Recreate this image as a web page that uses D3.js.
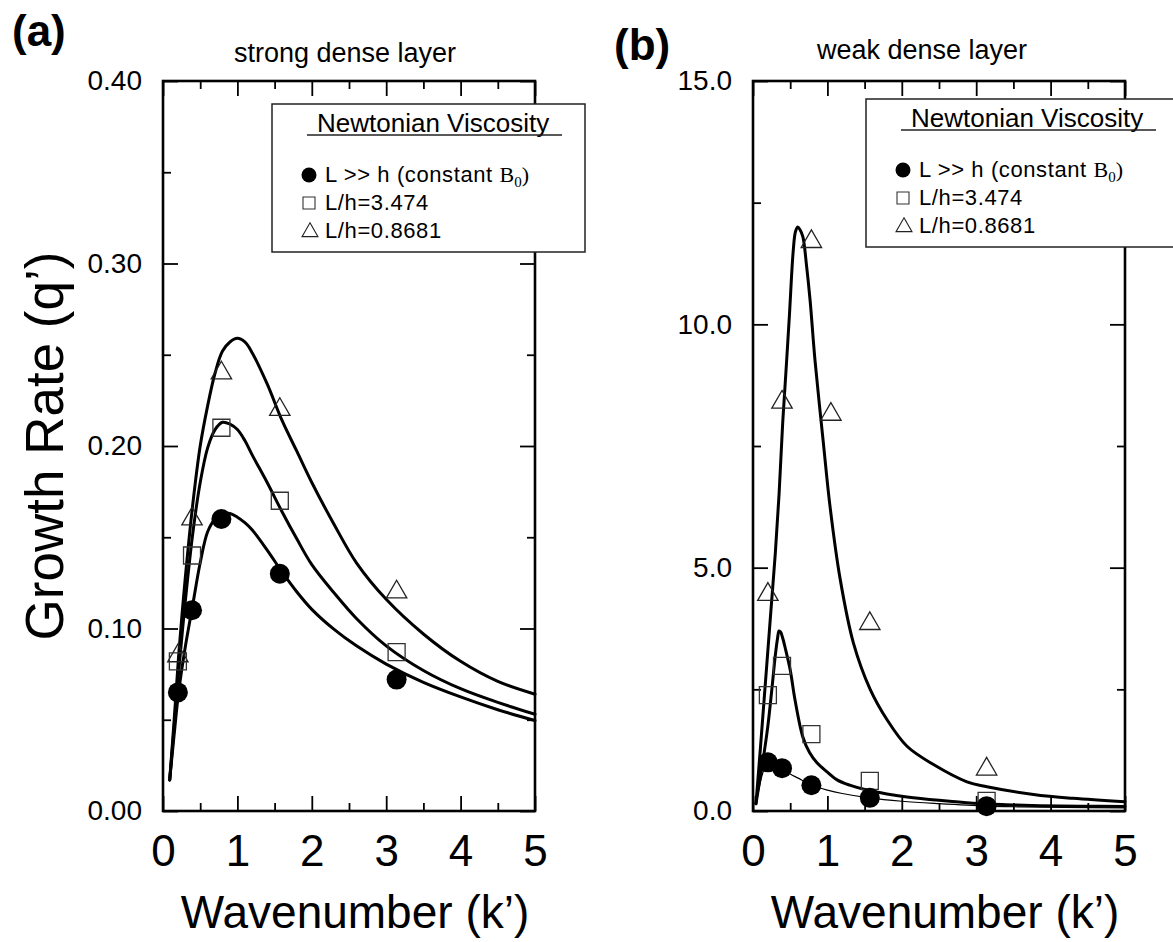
<!DOCTYPE html>
<html><head><meta charset="utf-8">
<script src="https://cdn.jsdelivr.net/npm/d3@7"></script>
<style>
html,body{margin:0;padding:0;background:#fff;}
svg{display:block;}
text{font-family:"Liberation Sans",Arial,Helvetica,sans-serif;fill:#000;}
</style></head><body>
<svg id="chart" width="1173" height="942"></svg>
<script>
// ---------- data ----------
const xTicksMajor = [0, 1, 2, 3, 4, 5];
const xTicksMinor = [0.5, 1.5, 2.5, 3.5, 4.5];
const yTicksA = [0, 0.1, 0.2, 0.3, 0.4];
const yTicksMinorA = [0.05, 0.15, 0.25, 0.35];
const yTicksB = [0, 5, 10, 15];
const yTicksMinorB = [2.5, 7.5, 12.5];

// panel (a) markers
const kMarksA = [0.2, 0.39, 0.785, 1.57, 3.14];
const circlesA = [0.065, 0.11, 0.16, 0.13, 0.072];
const squaresA = [0.082, 0.14, 0.21, 0.17, 0.087];
const trianglesA = [0.085, 0.16, 0.24, 0.22, 0.12];

// panel (a) curves
const kCurveA = [0.09, 0.15, 0.21, 0.3, 0.4, 0.5, 0.6, 0.7, 0.8, 0.9, 1.0, 1.1, 1.2, 1.4, 1.6, 1.8, 2.0, 2.3, 2.6, 3.0, 3.5, 4.0, 4.5, 5.0];
const curveCircleA = [0.017, 0.042, 0.065, 0.090, 0.113, 0.136, 0.153, 0.160, 0.163, 0.163, 0.161, 0.158, 0.154, 0.143, 0.131, 0.120, 0.1105, 0.0995, 0.0905, 0.0805, 0.0705, 0.0625, 0.0555, 0.0496];
const curveSquareA = [0.017, 0.046, 0.076, 0.115, 0.152, 0.180, 0.199, 0.209, 0.213, 0.212, 0.209, 0.203, 0.195, 0.180, 0.164, 0.149, 0.135, 0.1195, 0.1055, 0.0905, 0.077, 0.067, 0.0595, 0.053];
const curveTriangleA = [0.017, 0.050, 0.085, 0.128, 0.168, 0.200, 0.222, 0.240, 0.252, 0.257, 0.259, 0.257, 0.251, 0.234, 0.214, 0.197, 0.180, 0.157, 0.136, 0.116, 0.097, 0.082, 0.071, 0.064];

// panel (b) markers
const kMarksB = [0.2, 0.39, 0.785, 1.57, 3.14];
const circlesB = [1.0, 0.88, 0.53, 0.27, 0.1];
const squaresB = [2.38, 2.98, 1.58, 0.62, 0.21];
const kTrianglesB = [0.2, 0.39, 0.785, 1.047, 1.57, 3.14];
const trianglesB = [4.45, 8.4, 11.7, 8.15, 3.85, 0.86];

// panel (b) curves
const kCurveTriB = [0.04, 0.1, 0.15, 0.2, 0.25, 0.3, 0.35, 0.4, 0.45, 0.49, 0.54, 0.57, 0.6, 0.63, 0.67, 0.72, 0.767, 0.834, 0.946, 1.036, 1.17, 1.35, 1.575, 1.8, 2.07, 2.42, 2.876, 3.145, 3.77, 4.3, 5.0];
const curveTriangleB = [0.15, 1.3, 2.3, 3.3, 4.3, 5.3, 6.5, 8.0, 9.2, 10.2, 11.5, 11.9, 12.0, 11.95, 11.8, 11.2, 10.5, 9.25, 7.56, 6.25, 4.78, 3.45, 2.5, 1.88, 1.33, 0.96, 0.6, 0.5, 0.34, 0.26, 0.19];
const kCurveSqB = [0.04, 0.1, 0.15, 0.2, 0.25, 0.3, 0.33, 0.35, 0.37, 0.4, 0.43, 0.5, 0.565, 0.67, 0.76, 0.86, 1.0, 1.13, 1.3, 1.53, 1.8, 2.07, 2.5, 2.96, 3.4, 3.86, 4.4, 5.0];
const curveSquareB = [0.15, 0.72, 1.2, 1.75, 2.45, 3.2, 3.55, 3.7, 3.68, 3.55, 3.37, 2.9, 2.28, 1.52, 1.2, 0.99, 0.8, 0.64, 0.53, 0.43, 0.35, 0.29, 0.22, 0.16, 0.13, 0.11, 0.1, 0.094];
const kCurveCircB = [0.04, 0.08, 0.12, 0.16, 0.2, 0.25, 0.3, 0.39, 0.5, 0.6, 0.79, 1.0, 1.2, 1.56, 2.0, 2.5, 3.14, 3.6, 4.2, 5.0];
const curveCircleB = [0.15, 0.45, 0.72, 0.9, 0.98, 0.97, 0.93, 0.86, 0.76, 0.68, 0.53, 0.43, 0.36, 0.27, 0.2, 0.15, 0.1, 0.085, 0.075, 0.065];

const legendTitle = "Newtonian Viscosity";
const legendLabels = ["L >> h (constant ", "L/h=3.474", "L/h=0.8681"];

// ---------- drawing ----------
const svg = d3.select("#chart");
const TOP = 81, BOTTOM = 811;

function panel(cfg) {
  const g = svg.append("g");
  const x = d3.scaleLinear().domain([0, 5]).range([cfg.left, cfg.right]);
  const y = d3.scaleLinear().domain(cfg.yDomain).range([BOTTOM, TOP]);

  const styleAxis = (s, fs) => {
    s.select(".domain").remove();
    s.selectAll(".tick line").attr("stroke", "#000").attr("stroke-width", 1.8);
    s.attr("font-size", fs).attr("font-family", null);
    s.selectAll("text").attr("fill", "#000");
  };
  // bottom
  g.append("g").attr("transform", `translate(0,${BOTTOM})`)
    .call(d3.axisBottom(x).tickValues(xTicksMajor).tickSizeInner(-15).tickSizeOuter(0).tickPadding(24).tickFormat(d3.format("d")))
    .call(s => styleAxis(s, 44));
  g.append("g").attr("transform", `translate(0,${BOTTOM})`)
    .call(d3.axisBottom(x).tickValues(xTicksMinor).tickSizeInner(-8).tickSizeOuter(0).tickFormat(""))
    .call(s => styleAxis(s, 10));
  // top
  g.append("g").attr("transform", `translate(0,${TOP})`)
    .call(d3.axisTop(x).tickValues(xTicksMajor).tickSizeInner(-15).tickSizeOuter(0).tickFormat(""))
    .call(s => styleAxis(s, 10));
  g.append("g").attr("transform", `translate(0,${TOP})`)
    .call(d3.axisTop(x).tickValues(xTicksMinor).tickSizeInner(-8).tickSizeOuter(0).tickFormat(""))
    .call(s => styleAxis(s, 10));
  // left
  g.append("g").attr("transform", `translate(${cfg.left},0)`)
    .call(d3.axisLeft(y).tickValues(cfg.yMajor).tickSizeInner(-15).tickSizeOuter(0).tickPadding(21).tickFormat(d3.format(cfg.yFmt)))
    .call(s => styleAxis(s, 28));
  g.append("g").attr("transform", `translate(${cfg.left},0)`)
    .call(d3.axisLeft(y).tickValues(cfg.yMinor).tickSizeInner(-8).tickSizeOuter(0).tickFormat(""))
    .call(s => styleAxis(s, 10));
  // right
  g.append("g").attr("transform", `translate(${cfg.right},0)`)
    .call(d3.axisRight(y).tickValues(cfg.yMajor).tickSizeInner(-15).tickSizeOuter(0).tickFormat(""))
    .call(s => styleAxis(s, 10));
  g.append("g").attr("transform", `translate(${cfg.right},0)`)
    .call(d3.axisRight(y).tickValues(cfg.yMinor).tickSizeInner(-8).tickSizeOuter(0).tickFormat(""))
    .call(s => styleAxis(s, 10));

  // frame
  g.append("rect").attr("x", cfg.left).attr("y", TOP)
    .attr("width", cfg.right - cfg.left).attr("height", BOTTOM - TOP)
    .attr("fill", "none").attr("stroke", "#000").attr("stroke-width", 2.6);

  // curves
  const line = d3.line().x(d => x(d[0])).y(d => y(d[1])).curve(d3.curveCatmullRom.alpha(0.5));
  cfg.curves.forEach(c => {
    g.append("path").datum(d3.zip(c.k, c.v)).attr("d", line)
      .attr("fill", "none").attr("stroke", "#000").attr("stroke-width", c.w)
      .attr("stroke-linejoin", "round").attr("stroke-linecap", "round");
  });

  // markers
  g.append("g").selectAll("path").data(d3.zip(cfg.kTri, cfg.tri)).join("path")
    .attr("transform", d => `translate(${x(d[0])},${y(d[1])})`)
    .attr("d", d3.symbol(d3.symbolTriangle, 180))
    .attr("fill", "none").attr("stroke", "#222").attr("stroke-width", 1.3);
  g.append("g").selectAll("path").data(d3.zip(cfg.kSq, cfg.sq)).join("path")
    .attr("transform", d => `translate(${x(d[0])},${y(d[1])})`)
    .attr("d", d3.symbol(d3.symbolSquare, 289))
    .attr("fill", "none").attr("stroke", "#333").attr("stroke-width", 1.3);
  g.append("g").selectAll("circle").data(d3.zip(cfg.kCirc, cfg.circ)).join("circle")
    .attr("cx", d => x(d[0])).attr("cy", d => y(d[1])).attr("r", 10).attr("fill", "#000");

  // titles
  g.append("text").attr("x", cfg.titleX).attr("y", cfg.titleY).attr("text-anchor", "middle")
    .attr("font-size", 27).text(cfg.title);
  g.append("text").attr("x", cfg.tagX).attr("y", cfg.tagY).attr("font-size", 44)
    .attr("font-weight", "bold").text(cfg.tag);
  g.append("text").attr("x", (cfg.left + cfg.right) / 2 + 6).attr("y", 928).attr("text-anchor", "middle")
    .attr("font-size", 46).text("Wavenumber (k\u2019)");

  // legend
  const L = g.append("g").attr("transform", `translate(${cfg.legX},${cfg.legY})`);
  L.append("rect").attr("x", 0).attr("y", 0).attr("width", 313).attr("height", 148)
    .attr("fill", "#fff").attr("stroke", "#222").attr("stroke-width", 1.5);
  L.append("text").attr("x", 45).attr("y", 28).attr("font-size", 26).text(legendTitle);
  L.append("line").attr("x1", 35).attr("x2", 290).attr("y1", 31).attr("y2", 31)
    .attr("stroke", "#222").attr("stroke-width", 1.5);
  const base = [78, 106, 134];
  L.append("circle").attr("cx", 37).attr("cy", base[0] - 7).attr("r", 7.5).attr("fill", "#000");
  L.append("path").attr("transform", `translate(37,${base[1] - 7})`).attr("d", d3.symbol(d3.symbolSquare, 144))
    .attr("fill", "none").attr("stroke", "#333").attr("stroke-width", 1.1);
  L.append("path").attr("transform", `translate(38,${base[2] - 6})`).attr("d", d3.symbol(d3.symbolTriangle, 110))
    .attr("fill", "none").attr("stroke", "#222").attr("stroke-width", 1.1);
  const serif = "'Liberation Serif','Times New Roman',serif";
  const t0 = L.append("text").attr("x", 53).attr("y", base[0]).attr("font-size", 22).attr("letter-spacing", 0.6);
  t0.append("tspan").text(legendLabels[0]);
  t0.append("tspan").attr("font-family", serif).attr("letter-spacing", 0).text("B");
  t0.append("tspan").attr("font-family", serif).attr("font-size", 15).attr("dy", 5).attr("letter-spacing", 0).text("0");
  t0.append("tspan").attr("font-family", serif).attr("dy", -5).attr("letter-spacing", 0).text(")");
  L.append("text").attr("x", 53).attr("y", base[1]).attr("font-size", 22).attr("letter-spacing", 0.6).text(legendLabels[1]);
  L.append("text").attr("x", 53).attr("y", base[2]).attr("font-size", 22).attr("letter-spacing", 0.6).text(legendLabels[2]);
}

panel({
  left: 163, right: 535, yDomain: [0, 0.4], yMajor: yTicksA, yMinor: yTicksMinorA, yFmt: ".2f",
  curves: [{k: kCurveA, v: curveCircleA, w: 3}, {k: kCurveA, v: curveSquareA, w: 3}, {k: kCurveA, v: curveTriangleA, w: 3}],
  kCirc: kMarksA, circ: circlesA, kSq: kMarksA, sq: squaresA, kTri: kMarksA, tri: trianglesA,
  title: "strong dense layer", titleX: 345, titleY: 62, tag: "(a)", tagX: 12, tagY: 46,
  legX: 272, legY: 104
});
panel({
  left: 753, right: 1125, yDomain: [0, 15], yMajor: yTicksB, yMinor: yTicksMinorB, yFmt: ".1f",
  curves: [{k: kCurveCircB, v: curveCircleB, w: 1.2}, {k: kCurveSqB, v: curveSquareB, w: 3}, {k: kCurveTriB, v: curveTriangleB, w: 3}],
  kCirc: kMarksB, circ: circlesB, kSq: kMarksB, sq: squaresB, kTri: kTrianglesB, tri: trianglesB,
  title: "weak dense layer", titleX: 922, titleY: 59, tag: "(b)", tagX: 614, tagY: 60,
  legX: 866, legY: 99
});

// shared y-axis title
svg.append("text").attr("transform", "translate(63,446) rotate(-90)").attr("text-anchor", "middle")
  .attr("font-size", 53).text("Growth Rate (q\u2019)");
</script>
</body></html>
